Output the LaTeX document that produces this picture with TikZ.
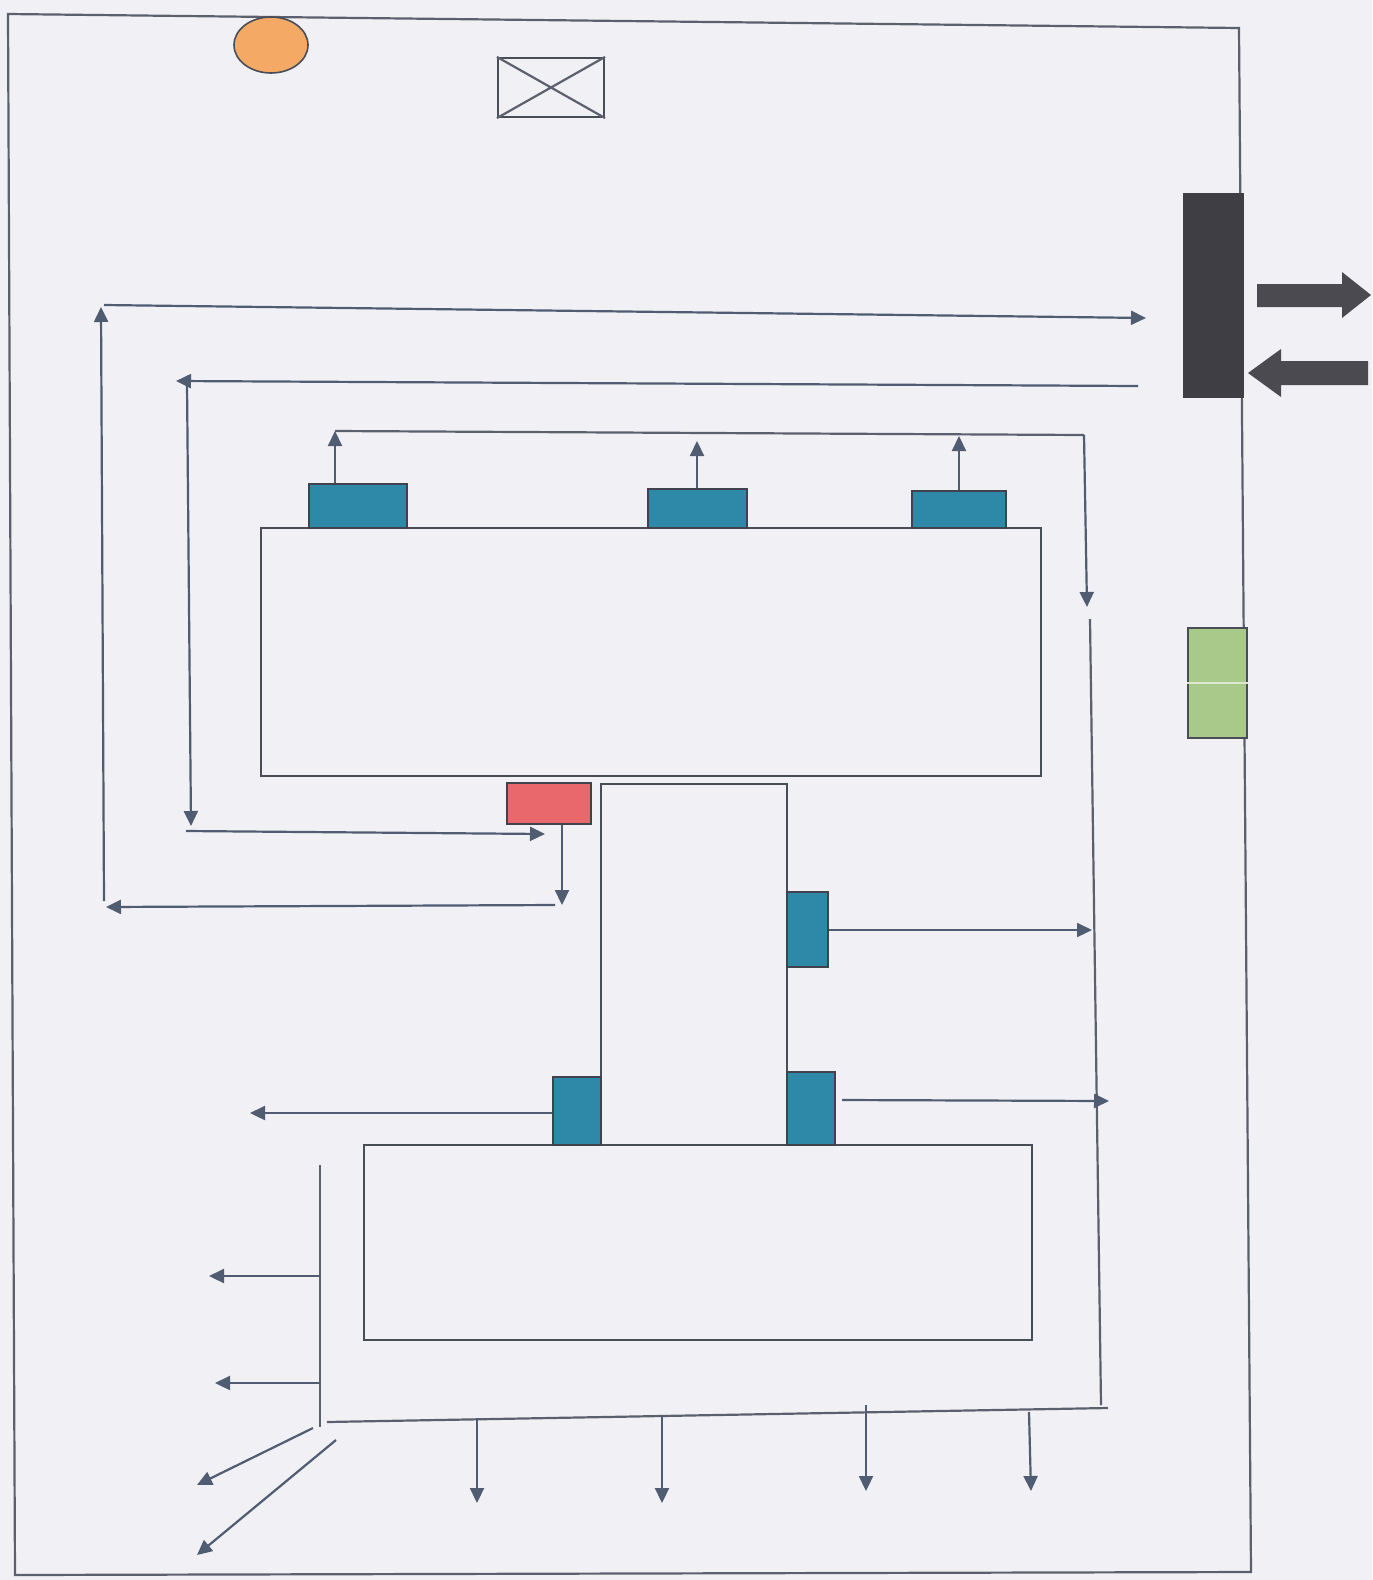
\documentclass[tikz,border=0pt]{standalone}
\usetikzlibrary{arrows.meta,fit,shapes.geometric}
\definecolor{bg}{HTML}{F1F0F5}
\definecolor{ln}{HTML}{5B606E}
\definecolor{ah}{HTML}{4F5C72}
\definecolor{bluef}{HTML}{2E88A8}
\definecolor{redf}{HTML}{E8686C}
\definecolor{greenf}{HTML}{A8C98A}
\definecolor{orangef}{HTML}{F4AA64}
\definecolor{darkf}{HTML}{3E3E44}
\definecolor{bigarr}{HTML}{4A4A50}
\begin{document}
\begin{tikzpicture}[x=0.5pt,y=-0.5pt,
  conn/.style={draw=ln, line width=1.1pt},
  arr/.style={conn, -{Triangle[length=7.5pt,width=7pt]}, color=ah},
  outline/.style={draw=ln!80!black, line width=1.1pt, inner sep=0pt},
  bluebox/.style={draw=ln!70!black, fill=bluef, line width=0.8pt, inner sep=0pt},
  redbox/.style={draw=ln!70!black, fill=redf, line width=0.8pt, inner sep=0pt},
  greenbox/.style={draw=ln!80!black, fill=greenf, line width=1pt, inner sep=0pt},
  darkbox/.style={fill=darkf, inner sep=0pt},
  bigarrow/.style={fill=bigarr}]
\fill[bg] (0,0) rectangle (1372,1580);
\useasboundingbox (0,0) rectangle (1372,1580);

% outer border
\draw[conn] (8,14) -- (1239,28) -- (1251,1572) -- (15,1575) -- cycle;

% top items
\node[ellipse, draw=ln!80!black, fill=orangef, line width=0.8pt, minimum width=37pt, minimum height=28pt, inner sep=0pt] (sun) at (271,45) {};
\node[outline, fit={(498,58) (604,117)}] (xbox) {};
\draw[conn] (xbox.north west) -- (xbox.south east) (xbox.south west) -- (xbox.north east);

% dark bar and big arrows
\node[darkbox, fit={(1183,193) (1244,398)}] (gate) {};
\fill[bigarrow] (1257,284) -- (1342,284) -- (1342,272) -- (1371,295) -- (1342,318) -- (1342,307) -- (1257,307) -- cycle;
\fill[bigarrow] (1368,361) -- (1281,361) -- (1281,349) -- (1248,373) -- (1281,397) -- (1281,385) -- (1368,385) -- cycle;

% green box
\node[greenbox, fit={(1188,628) (1247,738)}] (green) {};
\draw[white!60!greenf, line width=1pt] (green.west |- 0,683) -- (green.east |- 0,683);

% main boxes
\node[outline, fit={(261,528) (1041,776)}] (top) {};
\node[outline, fit={(601,784) (787,1145)}] (col) {};
\node[outline, fit={(364,1145) (1032,1340)}] (bot) {};

% blue boxes
\node[bluebox, fit={(309,484) (407,528)}] (b1) {};
\node[bluebox, fit={(648,489) (747,528)}] (b2) {};
\node[bluebox, fit={(912,491) (1006,528)}] (b3) {};
\node[bluebox, fit={(787,892) (828,967)}] (b4) {};
\node[bluebox, fit={(553,1077) (601,1145)}] (b5) {};
\node[bluebox, fit={(787,1072) (835,1145)}] (b6) {};
\node[redbox, fit={(507,783) (591,824)}] (red) {};

% coordinates
\coordinate (l1a) at (104,901);
\coordinate (l1b) at (101,307);
\coordinate (l1c) at (104,305);
\coordinate (l1d) at (1146,318);
\coordinate (l2a) at (1138,386);
\coordinate (l2b) at (176,381);
\coordinate (l2c) at (187,383);
\coordinate (l2d) at (191,826);
\coordinate (l2e) at (186,831);
\coordinate (l2f) at (545,834);
\coordinate (rd) at (562,905);
\coordinate (l3a) at (555,905);
\coordinate (l3b) at (106,907);
\coordinate (t1) at (335,431);
\coordinate (t2) at (697,441);
\coordinate (t3) at (959,436);
\coordinate (tr) at (1084,435);
\coordinate (trd) at (1087,607);
\coordinate (rv1) at (1090,619);
\coordinate (rv2) at (1101,1405);
\coordinate (e4) at (1092,930);
\coordinate (e5) at (250,1113);
\coordinate (s6) at (842,1100);
\coordinate (e6) at (1109,1101);
\coordinate (lv1) at (320,1165);
\coordinate (lv2) at (320,1427);
\coordinate (la1) at (209,1276);
\coordinate (la2) at (215,1383);
\coordinate (bh1) at (327,1422);
\coordinate (bh2) at (1108,1408);
\coordinate (d1s) at (313,1428);
\coordinate (d1e) at (197,1485);
\coordinate (d2s) at (336,1440);
\coordinate (d2e) at (197,1555);

% outer loop
\draw[arr] (l1a) -- (l1b);
\draw[arr] (l1c) -- (l1d);
% second loop
\draw[arr] (l2a) -- (l2b);
\draw[arr] (l2c) -- (l2d);
\draw[arr] (l2e) -- (l2f);
% red box
\draw[arr] (red.south -| rd) -- (rd);
\draw[arr] (l3a) -- (l3b);

% top blue outputs
\draw[arr] (b1.north -| t1) -- (t1);
\draw[arr] (b2.north -| t2) -- (t2);
\draw[arr] (b3.north -| t3) -- (t3);
\draw[conn] (t1) -- (tr);
\draw[arr] (tr) -- (trd);

% right vertical and side outputs
\draw[conn] (rv1) -- (rv2);
\draw[arr] (b4.east |- e4) -- (e4);
\draw[arr] (b5.west |- e5) -- (e5);
\draw[arr] (s6) -- (e6);

% left vertical
\draw[conn] (lv1) -- (lv2);
\draw[arr] (lv1 |- la1) -- (la1);
\draw[arr] (lv1 |- la2) -- (la2);
\draw[arr] (d1s) -- (d1e);
\draw[arr] (d2s) -- (d2e);

% bottom line and down arrows
\draw[conn] (bh1) -- (bh2);
\coordinate (dd1) at (477,1503);
\coordinate (dd2) at (662,1503);
\coordinate (dd3) at (866,1491);
\coordinate (dd4) at (1031,1491);
\draw[arr] (477,1418) -- (dd1);
\draw[arr] (662,1415) -- (dd2);
\draw[arr] (866,1405) -- (dd3);
\draw[arr] (1029,1412) -- (dd4);
\end{tikzpicture}
\end{document}
